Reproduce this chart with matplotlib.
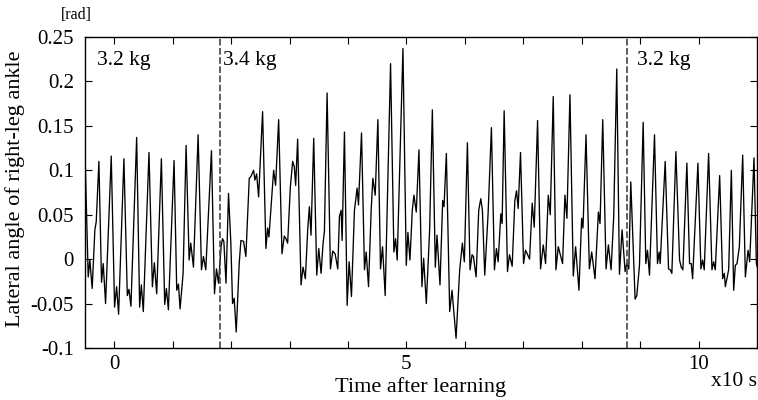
import matplotlib
matplotlib.use('Agg')
import matplotlib.pyplot as plt

# time in units of 10 s, lateral ankle angle in rad
t = [-0.50, -0.445, -0.417, -0.377, -0.331, -0.308, -0.262, -0.217, -0.188, -0.148,
     -0.051, 0.006, 0.041, 0.075, 0.166, 0.224, 0.252, 0.286, 0.384, 0.435,
     0.464, 0.498, 0.595, 0.653, 0.687, 0.727, 0.807, 0.864, 0.893, 0.927,
     1.024, 1.070, 1.099, 1.127, 1.179, 1.230, 1.282, 1.310, 1.356, 1.436,
     1.493, 1.527, 1.567, 1.664, 1.716, 1.750, 1.784, 1.830, 1.853, 1.876,
     1.913, 1.956, 1.996, 2.025, 2.053, 2.088, 2.139, 2.168, 2.213, 2.253,
     2.311, 2.339, 2.385, 2.408, 2.437, 2.471, 2.539, 2.596, 2.625, 2.648,
     2.694, 2.728, 2.762, 2.814, 2.871, 2.911, 2.939, 2.968, 3.014, 3.054,
     3.082, 3.105, 3.139, 3.197, 3.231, 3.271, 3.311, 3.340, 3.368, 3.414,
     3.466, 3.500, 3.540, 3.574, 3.597, 3.643, 3.700, 3.740, 3.780, 3.826,
     3.854, 3.883, 3.900, 3.940, 3.986, 4.020, 4.060, 4.111, 4.157, 4.180,
     4.232, 4.283, 4.312, 4.352, 4.397, 4.426, 4.466, 4.512, 4.557, 4.592,
     4.637, 4.729, 4.786, 4.815, 4.843, 4.941, 4.998, 5.026, 5.061, 5.101,
     5.129, 5.169, 5.215, 5.266, 5.295, 5.341, 5.398, 5.444, 5.495, 5.524,
     5.575, 5.621, 5.644, 5.684, 5.741, 5.781, 5.850, 5.912, 5.958, 5.992,
     6.044, 6.089, 6.124, 6.147, 6.193, 6.238, 6.273, 6.301, 6.341, 6.398,
     6.455, 6.507, 6.541, 6.570, 6.616, 6.638, 6.673, 6.730, 6.764, 6.810,
     6.856, 6.885, 6.913, 6.953, 7.005, 7.039, 7.068, 7.108, 7.153, 7.188,
     7.245, 7.296, 7.342, 7.382, 7.428, 7.462, 7.513, 7.559, 7.599, 7.673,
     7.713, 7.747, 7.799, 7.856, 7.896, 7.953, 7.999, 8.022, 8.074, 8.131,
     8.171, 8.228, 8.286, 8.314, 8.360, 8.417, 8.457, 8.503, 8.548, 8.600,
     8.646, 8.691, 8.743, 8.771, 8.806, 8.840, 8.914, 8.943, 8.989, 9.052,
     9.097, 9.126, 9.160, 9.246, 9.297, 9.326, 9.343, 9.429, 9.486, 9.515,
     9.543, 9.612, 9.675, 9.703, 9.732, 9.800, 9.846, 9.875, 9.898, 9.989,
     10.040, 10.069, 10.097, 10.172, 10.229, 10.258, 10.286, 10.361, 10.412, 10.441,
     10.458, 10.515, 10.561, 10.601, 10.629, 10.658, 10.698, 10.755, 10.801, 10.847,
     10.875, 10.949, 10.989, 11.05]
angle = [0.119, -0.020, -0.001, -0.033, 0.033, 0.042, 0.110, -0.026, -0.005, -0.050,
         0.116, -0.054, -0.031, -0.062, 0.113, -0.041, -0.034, -0.053, 0.137, -0.054,
         -0.029, -0.059, 0.120, -0.031, -0.004, -0.039, 0.113, -0.051, -0.033, -0.057,
         0.111, -0.035, -0.028, -0.056, -0.016, 0.128, -0.001, 0.018, -0.009, 0.140,
         -0.012, 0.003, -0.012, 0.122, -0.039, -0.011, -0.027, 0.015, 0.023, 0.020,
         -0.027, 0.074, 0.018, -0.050, -0.044, -0.082, -0.005, 0.021, 0.020, 0.003,
         0.091, 0.093, 0.100, 0.089, 0.096, 0.070, 0.166, 0.012, 0.035, 0.025,
         0.068, 0.100, 0.083, 0.157, 0.006, 0.026, 0.023, 0.018, 0.081, 0.110,
         0.104, 0.083, 0.135, -0.029, -0.009, -0.022, 0.033, 0.059, 0.027, 0.136,
         -0.018, 0.012, -0.016, 0.018, 0.031, 0.187, -0.011, 0.009, 0.006, -0.011,
         0.048, 0.055, 0.021, 0.143, -0.052, -0.003, -0.042, 0.055, 0.080, 0.061,
         0.142, -0.012, 0.008, -0.031, 0.055, 0.091, 0.072, 0.157, -0.011, 0.014,
         -0.041, 0.220, 0.008, 0.023, -0.001, 0.237, -0.007, 0.030, -0.001, 0.055,
         0.072, 0.053, 0.123, -0.031, 0.001, -0.050, 0.033, 0.168, -0.009, 0.027,
         -0.029, 0.066, 0.059, 0.119, -0.059, -0.035, -0.089, -0.012, 0.018, -0.003,
         0.131, -0.012, 0.005, 0.003, -0.020, 0.055, 0.068, 0.055, -0.018, 0.051,
         0.148, -0.012, 0.012, -0.003, 0.051, 0.040, 0.167, -0.014, 0.005, -0.008,
         0.066, 0.077, 0.057, 0.120, -0.005, 0.010, 0.006, 0.000, 0.063, 0.036,
         0.156, -0.011, 0.016, -0.005, 0.072, 0.050, 0.183, -0.012, 0.014, -0.005,
         0.072, 0.046, 0.185, -0.019, 0.014, -0.035, 0.046, 0.035, 0.140, -0.011,
         0.008, -0.022, 0.053, 0.040, 0.157, -0.011, 0.016, -0.012, 0.048, 0.214,
         -0.017, 0.033, -0.014, -0.005, -0.011, 0.087, -0.045, -0.041, -0.007, 0.154,
         -0.005, 0.010, -0.018, 0.140, -0.005, 0.008, -0.005, 0.110, -0.011, -0.012,
         -0.016, 0.121, -0.001, -0.009, -0.012, 0.108, -0.005, -0.005, -0.022, 0.108,
         -0.011, -0.001, -0.012, 0.119, -0.012, -0.003, -0.012, 0.094, -0.022, -0.016,
         -0.031, -0.012, 0.100, -0.035, -0.007, -0.005, 0.014, 0.117, -0.020, 0.010,
         -0.003, 0.114, -0.005, -0.020]

switch_times = [1.81, 8.78]
load_labels = ["3.2 kg", "3.4 kg", "3.2 kg"]
load_label_t = [-0.30, 1.86, 8.95]

xtick_vals = [0, 5, 10]
xminor_vals = [1, 2, 3, 4, 6, 7, 8, 9]
ytick_vals = [-0.1, -0.05, 0, 0.05, 0.1, 0.15, 0.2, 0.25]
ytick_text = ["-0.1", "-0.05", "0", "0.05", "0.1", "0.15", "0.2", "0.25"]

plt.rcParams['font.family'] = ['Liberation Serif', 'DejaVu Serif']
plt.rcParams['font.size'] = 15

fig = plt.figure(figsize=(7.58, 4.0), dpi=100)
ax = fig.add_axes([85 / 758, 52 / 400, 672 / 758, 311 / 400])

ax.plot(t, angle, color='black', lw=0.95)
for ts in switch_times:
    ax.axvline(ts, color='#444444', lw=1.2, linestyle=(0, (4, 1.5)))
for lab, lt in zip(load_labels, load_label_t):
    ax.text(lt, 0.223, lab, ha='left', va='center', fontsize=15.5)

ax.set_xlim(-0.5, 11.0)
ax.set_ylim(-0.1, 0.25)
ax.set_xticks(xtick_vals)
ax.set_xticks(xminor_vals, minor=True)
ax.set_yticks(ytick_vals)
ax.set_yticklabels(ytick_text)
ax.tick_params(which='both', direction='in', top=True, right=True, length=5,
               width=0.8, labelsize=15)
ax.tick_params(axis='x', pad=5)
ax.tick_params(axis='y', pad=8)
for sp in ax.spines.values():
    sp.set_linewidth(1.0)

ax.set_xlabel("Time after learning", fontsize=16, labelpad=2)
fig.text(15 / 758, 1 - 189 / 400, "Lateral angle of right-leg ankle", fontsize=16,
         rotation=90, ha='center', va='center')
fig.text(61 / 758, 1 - 15 / 400, "[rad]", fontsize=11.5, ha='left', va='center')
fig.text(757 / 758, 1 - 382 / 400, "x10 s", fontsize=15.5, ha='right', va='center')

fig.savefig("out.png", dpi=100)
